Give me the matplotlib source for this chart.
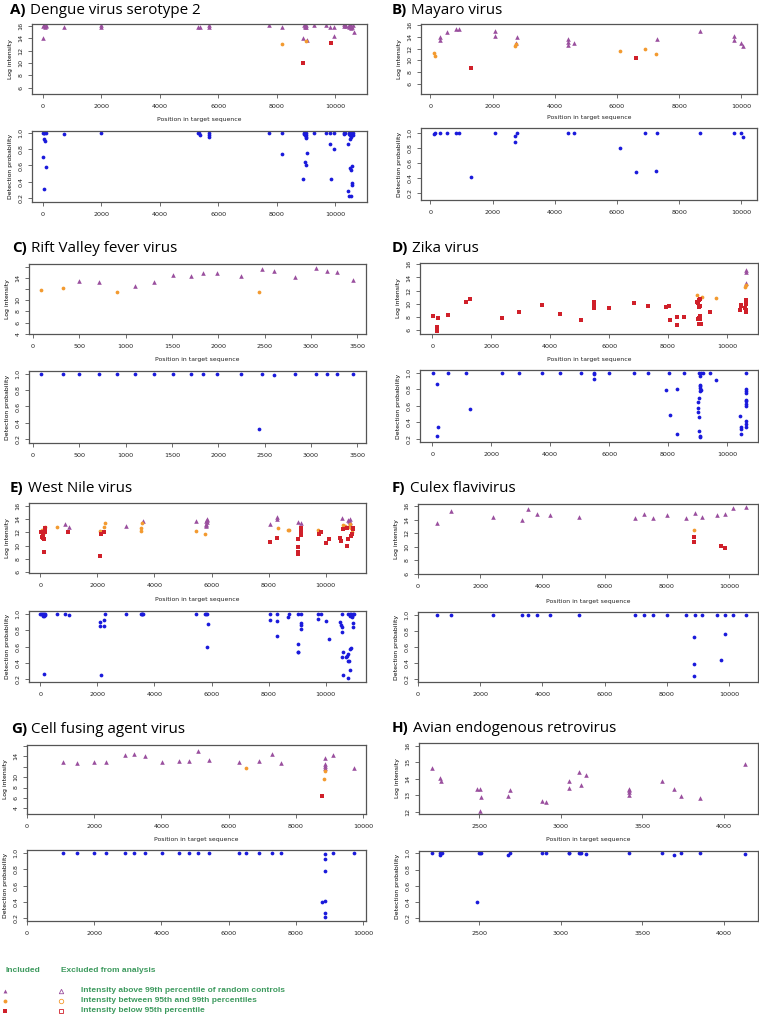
import matplotlib
matplotlib.use('Agg')
import matplotlib.pyplot as plt
from matplotlib.lines import Line2D

W, H = 759, 1016
fig = plt.figure(figsize=(W / 100, H / 100), dpi=100)

PURPLE = '#9a4f9e'
ORANGE = '#f39a2f'
RED = '#d0202a'
BLUE = '#1a1adb'
GREEN = '#3d9a5e'
SPINE = '#555555'
TITLE_FONT = 'Open Sans'

# ---------------- data ----------------
# A) Dengue virus serotype 2
A_tri = [(0, 16.0), (30, 16.1), (70, 15.9), (100, 16.0), (115, 16.1), (0, 14.0), (717, 15.8), (1990, 16.1),
         (2000, 15.9), (5300, 15.9), (5364, 15.9), (5695, 16.1), (5700, 15.9), (7722, 16.1), (8178, 15.8),
         (8884, 14.0), (8930, 16.1), (8950, 15.9), (8970, 16.0), (8990, 16.1), (9010, 15.8), (9032, 13.8),
         (9282, 16.1), (9681, 16.1), (9829, 15.9), (9966, 15.9), (9966, 14.4), (10285, 16.3), (10310, 16.0),
         (10330, 16.2), (10350, 16.0), (10450, 16.2), (10480, 15.9), (10500, 16.1), (10520, 15.8),
         (10540, 16.0), (10550, 15.6), (10570, 15.8), (10600, 16.1), (10626, 15.0)]
A_dot = [(8178, 13.15), (9009, 13.6)]
A_sq = [(8884, 10.0), (9863, 13.25)]
A_det = [(0, 1.0), (50, 1.0), (100, 1.0), (30, 1.0), (60, 0.93), (90, 0.90), (20, 0.70), (40, 0.31), (115, 0.58),
         (717, 0.99), (1993, 1.0), (5296, 1.0), (5364, 0.98), (5330, 1.0), (5695, 1.0), (5695, 0.98),
         (5700, 0.955), (7722, 1.0), (8178, 1.0), (8178, 0.745), (8884, 0.43), (8940, 1.0), (8960, 0.98),
         (8990, 0.97), (9010, 1.0), (8930, 0.985), (8990, 0.95), (9000, 0.935), (8950, 0.645), (9010, 0.60),
         (9032, 0.755), (9282, 1.0), (9681, 1.0), (9829, 1.0), (9829, 0.87), (9863, 0.43), (9966, 1.0),
         (9966, 0.80), (10285, 1.0), (10330, 1.0), (10310, 0.99), (10430, 0.87), (10450, 1.0), (10480, 0.99),
         (10500, 0.97), (10520, 1.0), (10550, 0.95), (10570, 1.0), (10600, 0.98), (10620, 1.0), (10500, 0.93),
         (10490, 0.57), (10570, 0.59), (10550, 0.54), (10560, 0.385), (10570, 0.36), (10440, 0.29),
         (10470, 0.22), (10540, 0.22)]

# B) Mayaro virus
B_tri = [(300, 13.9), (300, 13.4), (536, 14.8), (836, 15.3), (910, 15.3), (2090, 15.0), (2090, 14.1),
         (2787, 13.9), (2765, 13.0), (4416, 13.6), (4416, 13.1), (4416, 12.6), (4609, 13.0), (7288, 13.6),
         (8682, 15.0), (9775, 14.1), (9775, 13.4), (10000, 13.0), (10054, 12.4)]
B_dot = [(107, 11.2), (150, 10.7), (2712, 12.5), (2740, 12.8), (6088, 11.6), (6913, 11.9), (7267, 11.1)]
B_sq = [(1318, 8.7), (6624, 10.4)]
B_det = [(107, 0.98), (150, 1.0), (300, 1.0), (536, 1.0), (836, 1.0), (910, 1.0), (2090, 1.0), (2712, 0.95),
         (2712, 0.88), (2787, 1.0), (4416, 1.0), (4609, 1.0), (6088, 0.80), (6624, 0.48), (6913, 0.99),
         (7288, 1.0), (7267, 0.50), (8682, 1.0), (9775, 1.0), (10000, 0.99), (10054, 0.94), (1318, 0.41)]

# C) Rift Valley fever virus
C_tri = [(496, 13.5), (709, 13.2), (1104, 12.6), (1309, 13.3), (1507, 14.5), (1709, 14.3), (1831, 14.8),
         (1989, 14.95), (2245, 14.3), (2475, 15.6), (2604, 15.2), (2824, 14.25), (3054, 15.75), (3173, 15.3),
         (3281, 15.0), (3453, 13.6)]
C_dot = [(86, 11.9), (320, 12.25), (903, 11.55), (2442, 11.45)]
C_sq = []
C_det = [(86, 1.0), (320, 1.0), (496, 1.0), (709, 1.0), (903, 1.0), (1104, 1.0), (1309, 1.0), (1507, 1.0),
         (1709, 1.0), (1831, 1.0), (1989, 1.0), (2245, 1.0), (2442, 0.32), (2475, 1.0), (2604, 0.985),
         (2824, 1.0), (3054, 1.0), (3173, 1.0), (3281, 1.0), (3453, 1.0)]

# D) Zika virus
D_tri = [(10634, 14.9), (10650, 15.1), (10634, 13.2)]
D_dot = [(8980, 11.3), (9162, 11.05), (9637, 10.8), (10612, 12.6), (10630, 12.8)]
D_sq = [(34, 8.15), (204, 7.8), (150, 6.4), (160, 6.1), (170, 5.85), (544, 8.25), (1133, 10.25), (1280, 10.7),
        (2367, 7.85), (2933, 8.75), (3726, 9.8), (4337, 8.5), (5062, 7.45), (5470, 10.2), (5470, 9.9),
        (5470, 9.6), (5480, 9.4), (5980, 9.3), (6829, 10.15), (7327, 9.6), (7939, 9.45), (8018, 9.65),
        (8075, 7.55), (8290, 8.05), (8290, 6.8), (8551, 7.95), (8980, 10.3), (9020, 10.1), (9050, 10.5),
        (9060, 9.45), (9000, 7.7), (9040, 7.8), (9080, 8.1), (9060, 6.95), (9110, 6.95), (9080, 9.6),
        (9100, 10.7), (9070, 7.6), (9434, 8.75), (10453, 9.1), (10470, 9.6), (10480, 9.8), (10634, 10.5),
        (10640, 10.0), (10620, 9.3), (10630, 9.0), (10650, 8.75), (10660, 10.0)]
D_det = [(34, 1.0), (170, 0.87), (150, 0.235), (204, 0.34), (544, 1.0), (1133, 1.0), (1280, 0.56), (2367, 1.0),
         (2933, 1.0), (3726, 1.0), (4337, 1.0), (5062, 1.0), (5470, 1.0), (5470, 0.985), (5470, 0.93),
         (5980, 1.0), (6829, 1.0), (7327, 1.0), (7939, 0.79), (8018, 1.0), (8075, 0.49), (8290, 0.80),
         (8290, 0.26), (8551, 1.0), (9060, 1.0), (9110, 1.0), (9080, 0.96), (9080, 0.86), (9090, 0.84),
         (9070, 0.82), (9110, 0.79), (9100, 0.78), (9050, 0.69), (9000, 0.645), (9030, 0.57), (9010, 0.53),
         (9060, 0.46), (9060, 0.30), (9080, 0.22), (9100, 0.23), (9180, 1.0), (9434, 1.0), (9637, 0.91),
         (10453, 0.48), (10460, 0.345), (10480, 0.32), (10490, 0.255), (10634, 1.0), (10640, 0.81),
         (10630, 0.78), (10640, 0.76), (10660, 0.67), (10650, 0.66), (10640, 0.62), (10630, 0.60),
         (10660, 0.41), (10650, 0.38), (10640, 0.345)]

# E) West Nile virus
E_tri = [(854, 13.3), (1006, 12.85), (2994, 12.9), (3602, 13.65), (5462, 13.7), (5800, 13.7), (5820, 13.3),
         (5830, 13.9), (5810, 13.1), (5850, 13.5), (5790, 12.9), (5840, 14.0), (8047, 13.3), (8292, 14.05),
         (8292, 14.3), (9018, 13.6), (9135, 13.4), (10585, 14.1), (10800, 13.9), (10820, 13.7), (10850, 13.5),
         (10870, 13.3), (10860, 14.0)]
E_dot = [(20, 12.0), (60, 12.3), (160, 12.8), (100, 11.7), (585, 12.8), (2082, 12.15), (2234, 12.8),
         (2257, 13.4), (3532, 12.6), (3544, 12.2), (3580, 13.4), (5462, 12.2), (5778, 11.8), (8316, 12.7),
         (8667, 12.35), (8700, 12.3), (9743, 12.35), (10600, 13.1), (10680, 13.0), (10780, 12.8),
         (10850, 13.2), (10900, 12.6), (10930, 12.0)]
E_sq = [(35, 12.1), (94, 11.1), (60, 11.3), (130, 11.0), (150, 12.0), (170, 12.3), (175, 12.6), (110, 11.7),
        (130, 9.0), (971, 12.0), (2140, 11.8), (2234, 12.0), (2105, 8.4), (8059, 10.6), (8292, 11.15),
        (9029, 11.0), (9029, 9.85), (9029, 9.1), (9029, 8.8), (9135, 12.7), (9135, 12.3), (9135, 11.65),
        (9150, 12.0), (9778, 11.7), (9825, 12.1), (10012, 10.4), (10129, 11.05), (10503, 11.2), (10550, 10.7),
        (10620, 12.5), (10737, 12.6), (10737, 9.9), (10800, 11.0), (10900, 11.5), (10935, 11.7),
        (10950, 12.5), (10950, 12.7)]
E_det = [(0, 1.0), (30, 1.0), (60, 1.0), (90, 1.0), (120, 1.0), (150, 1.0), (170, 0.99), (100, 0.98),
         (130, 0.975), (130, 0.27), (585, 1.0), (854, 0.995), (1006, 0.985), (2082, 0.85), (2105, 0.90),
         (2234, 0.93), (2234, 0.85), (2257, 1.0), (2140, 0.25), (2994, 1.0), (3532, 1.0), (3550, 1.0),
         (3580, 1.0), (3602, 1.0), (5462, 1.0), (5778, 1.0), (5820, 1.0), (5850, 1.0), (5870, 0.875),
         (5850, 0.60), (8047, 1.0), (8047, 0.93), (8292, 1.0), (8292, 0.91), (8292, 0.73), (8667, 0.96),
         (8700, 1.0), (9018, 1.0), (9135, 1.0), (9029, 0.63), (9029, 0.54), (9029, 0.53), (9135, 0.89),
         (9135, 0.87), (9135, 0.82), (9743, 1.0), (9825, 1.0), (9743, 0.94), (10012, 0.915), (10129, 0.69),
         (10585, 1.0), (10800, 1.0), (10850, 1.0), (10900, 1.0), (10950, 1.0), (10980, 1.0), (10870, 0.98),
         (10920, 0.965), (10503, 0.90), (10550, 0.86), (10585, 0.84), (10585, 0.78), (10600, 0.54),
         (10570, 0.47), (10737, 0.49), (10800, 0.51), (10780, 0.42), (10830, 0.43), (10850, 0.57),
         (10880, 0.58), (10700, 0.47), (10850, 0.32), (10620, 0.25), (10800, 0.22), (10960, 0.89),
         (10960, 0.84), (10940, 0.98)]

# F) Culex flavivirus
F_tri = [(618, 13.5), (1065, 15.3), (2414, 14.4), (3360, 14.0), (3541, 15.55), (3828, 14.9), (4253, 14.65),
         (5167, 14.45), (6973, 14.3), (7260, 14.85), (7547, 14.3), (7994, 14.75), (8610, 14.25), (8897, 15.0),
         (9141, 14.35), (9620, 14.75), (9864, 14.9), (10119, 15.7), (10533, 15.95)]
F_dot = [(8886, 12.5)]
F_sq = [(8886, 11.45), (8886, 10.65), (9737, 10.15), (9864, 9.8)]
F_det = [(618, 1.0), (1065, 1.0), (2414, 1.0), (3360, 1.0), (3541, 1.0), (3828, 1.0), (4253, 1.0), (5167, 1.0),
         (6973, 1.0), (7260, 1.0), (7547, 1.0), (7994, 1.0), (8610, 1.0), (8897, 1.0), (9141, 1.0), (9620, 1.0),
         (9864, 1.0), (10119, 1.0), (10533, 1.0), (8886, 0.72), (8886, 0.39), (8886, 0.24), (9737, 0.43),
         (9864, 0.76)]

# G) Cell fusing agent virus
G_tri = [(1058, 12.85), (1492, 12.7), (2000, 12.97), (2351, 12.97), (2905, 14.26), (3182, 14.5), (3506, 14.1),
         (4014, 12.9), (4531, 13.16), (4808, 13.1), (5104, 15.0), (5427, 13.3), (6305, 12.97), (6914, 13.1),
         (7284, 14.45), (7552, 12.7), (8864, 13.6), (8864, 12.6), (8864, 12.2), (8864, 11.75), (9095, 14.26),
         (9741, 11.7)]
G_dot = [(6526, 11.7), (8864, 11.1), (8845, 9.7)]
G_sq = [(8771, 6.45)]
G_det = [(1058, 1.0), (1492, 1.0), (2000, 1.0), (2351, 1.0), (2905, 1.0), (3182, 1.0), (3506, 1.0), (4014, 1.0),
         (4531, 1.0), (4808, 1.0), (5104, 1.0), (5427, 1.0), (6305, 1.0), (6526, 1.0), (6914, 1.0), (7284, 1.0),
         (7552, 1.0), (9095, 1.0), (9741, 1.0), (8864, 0.985), (8864, 0.925), (8864, 0.785), (8771, 0.40),
         (8864, 0.415), (8864, 0.26), (8864, 0.21)]

# H) Avian endogenous retrovirus
H_tri = [(2212, 14.62), (2263, 14.05), (2265, 13.87), (2484, 13.4), (2508, 13.38), (2514, 12.9), (2504, 12.02),
         (2674, 12.95), (2688, 13.3), (2886, 12.63), (2909, 12.59), (3048, 13.83), (3052, 13.46), (3109, 14.4),
         (3126, 13.6), (3156, 14.2), (3418, 13.4), (3418, 13.22), (3418, 13.0), (3420, 13.3), (3619, 13.85),
         (3692, 13.36), (3735, 12.93), (3854, 12.8), (4126, 14.9)]
H_dot = []
H_sq = []
H_det = [(2212, 1.0), (2263, 1.0), (2270, 1.0), (2500, 1.0), (2508, 1.0), (2514, 1.0), (2674, 0.985),
         (2688, 1.0), (2886, 1.0), (2909, 1.0), (3048, 1.0), (3052, 1.0), (3109, 1.0), (3120, 1.0), (3126, 1.0),
         (3156, 0.99), (3418, 1.0), (3619, 1.0), (3692, 0.98), (3735, 1.0), (3854, 1.0), (4126, 0.995),
         (2263, 0.985), (2484, 0.40)]

INT_TICKS_16 = [6, 8, 10, 12, 14, 16]
INT_TICKS_4 = [4, 6, 8, 10, 12, 14, 16]
INT_LABELS_4 = ['4', '6', '8', '10', '', '14', '']
INT_TICKS_H = [12, 13, 14, 15, 16]
DET_TICKS = [0.2, 0.4, 0.6, 0.8, 1.0]
POS_TICKS_10K = [0, 2000, 4000, 6000, 8000, 10000]
POS_TICKS_C = [0, 500, 1000, 1500, 2000, 2500, 3000, 3500]
POS_TICKS_H = [2500, 3000, 3500, 4000]

panels = [
    dict(letter='A)', name='Dengue virus serotype 2', title=(10, 14), box=(32, 367), top=(24, 94), bot=(131, 202),
         xlim=(-364, 11082), ylim=(4.98, 16.32), dlim=(0.15, 1.025), xt=POS_TICKS_10K,
         yt=INT_TICKS_16, yl=None, data=(A_tri, A_dot, A_sq, A_det), xlab=119),
    dict(letter='B)', name='Mayaro virus', title=(392, 14), box=(421, 757), top=(24, 94), bot=(128, 200),
         xlim=(-300, 10500), ylim=(4.3, 16.17), dlim=(0.113, 1.06), xt=POS_TICKS_10K,
         yt=INT_TICKS_16, yl=None, data=(B_tri, B_dot, B_sq, B_det), xlab=118),
    dict(letter='C)', name='Rift Valley fever virus', title=(12, 252), box=(29, 366), top=(264, 334), bot=(371, 443),
         xlim=(-43, 3594), ylim=(3.94, 16.5), dlim=(0.15, 1.037), xt=POS_TICKS_C,
         yt=INT_TICKS_4, yl=INT_LABELS_4, data=(C_tri, C_dot, C_sq, C_det), xlab=360),
    dict(letter='D)', name='Zika virus', title=(392, 252), box=(420, 758), top=(263, 334), bot=(370, 442),
         xlim=(-419, 11053), ylim=(5.39, 16.2), dlim=(0.16, 1.037), xt=POS_TICKS_10K,
         yt=INT_TICKS_16, yl=None, data=(D_tri, D_dot, D_sq, D_det), xlab=359),
    dict(letter='E)', name='West Nile virus', title=(10, 492), box=(29, 366), top=(503, 573), bot=(611, 682),
         xlim=(-398, 11415), ylim=(5.9, 16.4), dlim=(0.167, 1.037), xt=POS_TICKS_10K,
         yt=INT_TICKS_16, yl=None, data=(E_tri, E_dot, E_sq, E_det), xlab=600),
    dict(letter='F)', name='Culex flavivirus', title=(392, 492), box=(418, 758), top=(504, 574), bot=(612, 682),
         xlim=(98, 10935), ylim=(5.95, 16.35), dlim=(0.16, 1.035), xt=POS_TICKS_10K,
         yt=INT_TICKS_16, yl=None, data=(F_tri, F_dot, F_sq, F_det), xlab=601),
    dict(letter='G)', name='Cell fusing agent virus', title=(11, 733), box=(27, 366), top=(745, 814), bot=(850, 921),
         xlim=(688, 10092), ylim=(2.9, 16.2), dlim=(0.163, 1.04), xt=POS_TICKS_10K,
         yt=INT_TICKS_4, yl=INT_LABELS_4, data=(G_tri, G_dot, G_sq, G_det), xlab=840),
    dict(letter='H)', name='Avian endogenous retrovirus', title=(392, 732), box=(419, 758), top=(743, 814),
         bot=(851, 921), xlim=(2132, 4207), ylim=(11.86, 16.16), dlim=(0.16, 1.03), xt=POS_TICKS_H,
         yt=INT_TICKS_H, yl=None, data=(H_tri, H_dot, H_sq, H_det), xlab=840),
]


def add_ax(x0, x1, y0, y1):
    return fig.add_axes([x0 / W, 1 - y1 / H, (x1 - x0) / W, (y1 - y0) / H])


def style(ax, xlim, ylim, xt, yt, yl):
    ax.set_xlim(*xlim)
    ax.set_ylim(*ylim)
    ax.set_xticks(xt)
    ax.set_xticklabels([str(t) for t in xt])
    ax.set_yticks(yt)
    ax.set_yticklabels(yl if yl is not None else [('%g' % t) if t >= 2 else '%.1f' % t for t in yt],
                       rotation=90, va='center')
    ax.tick_params(length=3, width=0.6, color=SPINE, labelsize=4.6, labelcolor='#222222')
    ax.tick_params(axis='x', pad=4)
    ax.tick_params(axis='y', pad=3)
    for s in ax.spines.values():
        s.set_color(SPINE)
        s.set_linewidth(0.9)


def xy(pts):
    return [p[0] for p in pts], [p[1] for p in pts]


renderer = fig.canvas.get_renderer()
for p in panels:
    x0, x1 = p['box']
    tri, dot, sq, det = p['data']
    ax = add_ax(x0, x1, *p['top'])
    for pts, m, c, ms in ((tri, '^', PURPLE, 3.3), (dot, 'o', ORANGE, 2.7), (sq, 's', RED, 2.7)):
        if pts:
            xs, ys = xy(pts)
            ax.plot(xs, ys, ls='none', marker=m, color=c, ms=ms, mew=0)
    style(ax, p['xlim'], p['ylim'], p['xt'], p['yt'], p['yl'])
    ax.set_ylabel('Log intensity', fontsize=4.4, labelpad=4)
    fig.text((x0 + x1) / 2 / W, 1 - p['xlab'] / H, 'Position in target sequence', fontsize=4.4,
             ha='center', va='center', color='#222222')

    bx = add_ax(x0, x1, *p['bot'])
    xs, ys = xy(det)
    bx.plot(xs, ys, ls='none', marker='o', color=BLUE, ms=2.7, mew=0)
    style(bx, p['xlim'], p['dlim'], p['xt'], DET_TICKS, ['0.2', '0.4', '0.6', '0.8', '1.0'])
    bx.set_ylabel('Detection probability', fontsize=4.4, labelpad=4)

    tx, ty = p['title']
    t1 = fig.text(tx / W, 1 - ty / H, p['letter'], fontsize=10.9, fontweight='bold', family=TITLE_FONT,
                  va='baseline', ha='left')
    bb = t1.get_window_extent(renderer)
    fig.text((bb.x1 + 4) / W, 1 - ty / H, p['name'], fontsize=10.9, family=TITLE_FONT, va='baseline', ha='left')

# ---------------- legend ----------------
LEG_FONT = dict(fontsize=6.0, fontweight='bold', color=GREEN, family='Liberation Sans', va='center')
fig.text(6 / W, 1 - 971 / H, 'Included', ha='left', **LEG_FONT)
fig.text(61 / W, 1 - 971 / H, 'Excluded from analysis', ha='left', **LEG_FONT)
leg_rows = [('^', PURPLE, 'Intensity above 99th percentile of random controls'),
            ('o', ORANGE, 'Intensity between 95th and 99th percentiles'),
            ('s', RED, 'Intensity below 95th percentile')]
for i, (m, c, lab) in enumerate(leg_rows):
    yy = 1 - (991 + 10 * i) / H
    fig.add_artist(Line2D([5 / W], [yy], marker=m, color=c, ms=2.8, mew=0, ls='none', transform=fig.transFigure))
    fig.add_artist(Line2D([61 / W], [yy], marker=m, mfc='none', mec=c, ms=3.2, mew=0.6, ls='none',
                          transform=fig.transFigure))
    fig.text(81 / W, yy, lab, ha='left', **LEG_FONT)

fig.savefig('out.png', dpi=100)
